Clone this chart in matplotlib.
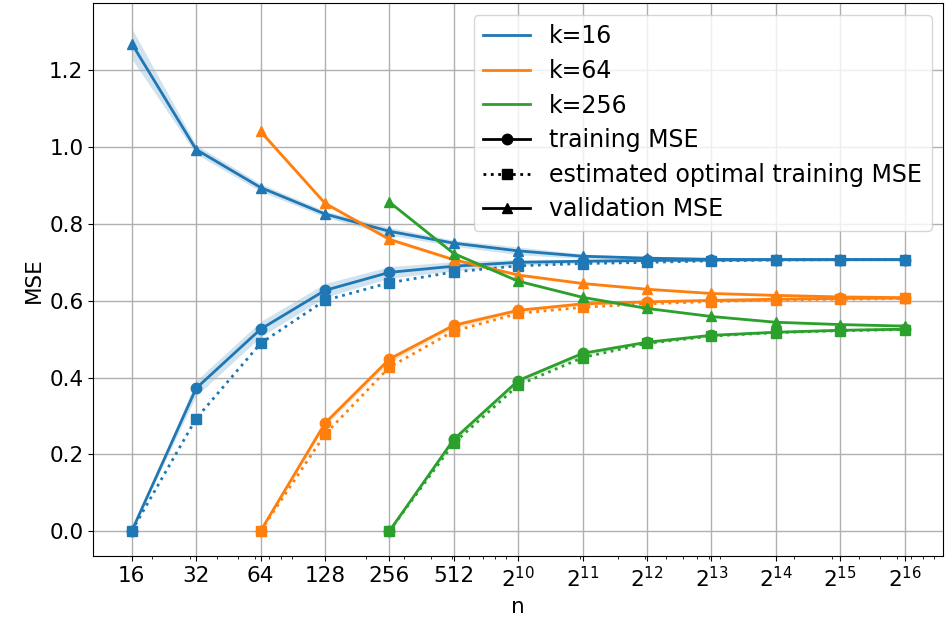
import numpy as np
import matplotlib
matplotlib.use("Agg")
import matplotlib.pyplot as plt
from matplotlib.lines import Line2D

# sample sizes n = 2^4 ... 2^16
n_values = [2**p for p in range(4, 17)]
tick_labels = ['16', '32', '64', '128', '256', '512'] + [r'$2^{%d}$' % p for p in range(10, 17)]

k_values = [16, 64, 256]
colors = ['#1f77b4', '#ff7f0e', '#2ca02c']

# k=16 (starts at n=16)
train_k16 = [0.0, 0.372, 0.526, 0.627, 0.674, 0.690, 0.700, 0.703, 0.705, 0.706, 0.707, 0.707, 0.707]
train_std_k16 = [0.0, 0.02, 0.02, 0.018, 0.015, 0.012, 0.008, 0.005, 0.004, 0.003, 0.002, 0.002, 0.002]
est_k16 = [0.0, 0.293, 0.489, 0.601, 0.647, 0.675, 0.691, 0.697, 0.700, 0.704, 0.706, 0.707, 0.707]
val_k16 = [1.270, 0.994, 0.895, 0.826, 0.781, 0.750, 0.730, 0.716, 0.711, 0.708, 0.707, 0.707, 0.707]
val_std_k16 = [0.04, 0.012, 0.01, 0.008, 0.01, 0.008, 0.01, 0.006, 0.004, 0.003, 0.002, 0.002, 0.002]

# k=64 (starts at n=64)
train_k64 = [0.0, 0.281, 0.448, 0.536, 0.575, 0.592, 0.597, 0.601, 0.604, 0.606, 0.607]
train_std_k64 = [0.0, 0.008, 0.008, 0.007, 0.006, 0.004, 0.003, 0.002, 0.002, 0.002, 0.002]
est_k64 = [0.0, 0.252, 0.427, 0.521, 0.567, 0.583, 0.592, 0.598, 0.602, 0.604, 0.606]
val_k64 = [1.041, 0.854, 0.760, 0.707, 0.667, 0.645, 0.630, 0.619, 0.614, 0.610, 0.608]
val_std_k64 = [0.006, 0.005, 0.005, 0.004, 0.004, 0.003, 0.003, 0.002, 0.002, 0.002, 0.002]

# k=256 (starts at n=256)
train_k256 = [0.0, 0.239, 0.392, 0.463, 0.492, 0.510, 0.518, 0.523, 0.526]
train_std_k256 = [0.0, 0.006, 0.006, 0.006, 0.004, 0.003, 0.002, 0.002, 0.002]
est_k256 = [0.0, 0.229, 0.380, 0.452, 0.489, 0.508, 0.517, 0.522, 0.525]
val_k256 = [0.857, 0.723, 0.651, 0.609, 0.580, 0.559, 0.544, 0.538, 0.534]
val_std_k256 = [0.004, 0.004, 0.003, 0.003, 0.002, 0.002, 0.002, 0.002, 0.002]

train = [train_k16, train_k64, train_k256]
train_std = [train_std_k16, train_std_k64, train_std_k256]
est = [est_k16, est_k64, est_k256]
val = [val_k16, val_k64, val_k256]
val_std = [val_std_k16, val_std_k64, val_std_k256]

plt.rcParams['font.size'] = 15.5

fig, ax = plt.subplots(figsize=(9.5, 6.18), dpi=100)
fig.subplots_adjust(left=0.098, right=0.993, top=0.995, bottom=0.1)

for i, k in enumerate(k_values):
    c = colors[i]
    n = np.array([v for v in n_values if v >= k])
    tr = np.array(train[i])
    trs = np.array(train_std[i])
    va = np.array(val[i])
    vas = np.array(val_std[i])
    # shaded spread around training and validation curves
    ax.fill_between(n, tr - trs, tr + trs, color=c, alpha=0.2, linewidth=0)
    ax.fill_between(n, va - vas, va + vas, color=c, alpha=0.2, linewidth=0)
    ax.plot(n, tr, color=c, marker='o', markersize=7.5, linewidth=2)
    ax.plot(n, est[i], color=c, marker='s', markersize=7.5, linewidth=2, linestyle=':')
    ax.plot(n, va, color=c, marker='^', markersize=7.5, linewidth=2)

ax.set_xscale('log')
ax.set_xticks(n_values)
ax.set_xticklabels(tick_labels)
ax.set_xlabel('n')
ax.set_ylabel('MSE')
ax.grid(True, which='major', color='#b0b0b0', linewidth=1)

handles = [Line2D([], [], color=c, linewidth=2) for c in colors]
handles += [
    Line2D([], [], color='black', marker='o', linewidth=2, markersize=7.5),
    Line2D([], [], color='black', marker='s', linewidth=2, markersize=7.5, linestyle=':'),
    Line2D([], [], color='black', marker='^', linewidth=2, markersize=7.5),
]
labels = ['k=16', 'k=64', 'k=256', 'training MSE', 'estimated optimal training MSE', 'validation MSE']
ax.legend(handles, labels, loc='upper right', fontsize=17, labelspacing=0.45)

plt.savefig('out.png', dpi=100)
